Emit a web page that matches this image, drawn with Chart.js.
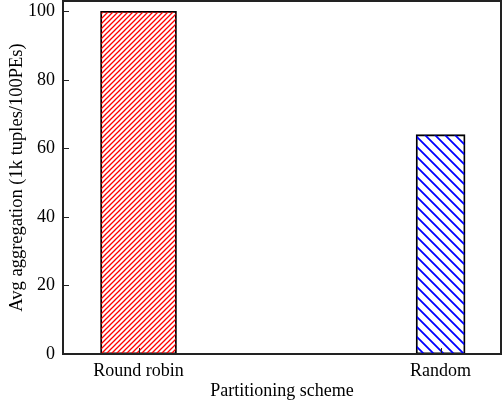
<!DOCTYPE html>
<html>
<head>
<meta charset="utf-8">
<script src="https://cdn.jsdelivr.net/npm/chart.js@4.4.1/dist/chart.umd.min.js"></script>
<style>
  html, body { margin: 0; padding: 0; background: #fff; }
  #wrap { width: 502px; height: 407px; }
</style>
</head>
<body>
<div id="wrap"><canvas id="c" width="502" height="407"></canvas></div>
<script>
// Partitioning schemes and their average aggregation (1k tuples / 100 PEs)
const categories = ['Round robin', 'Random'];
const categoryPositions = [1, 2];
const aggregationValues = [100, 64];
const yTickValues = [0, 20, 40, 60, 80, 100];

const FONT = "'Liberation Serif', 'Times New Roman', serif";

// Hatch fill: diagonal stripes drawn into a small repeating tile
function hatch(color, spacing, lineWidth, forward) {
  const t = document.createElement('canvas');
  t.width = spacing; t.height = spacing;
  const g = t.getContext('2d');
  g.strokeStyle = color;
  g.lineWidth = lineWidth;
  g.beginPath();
  for (let k = -2; k <= 2; k++) {
    const o = k * spacing;
    if (forward) {
      // "/" stripes
      g.moveTo(o - spacing, spacing * 2); g.lineTo(o + spacing * 2, -spacing);
    } else {
      // "\" stripes
      g.moveTo(o - spacing, -spacing); g.lineTo(o + spacing * 2, spacing * 2);
    }
  }
  g.stroke();
  return document.getElementById('c').getContext('2d').createPattern(t, 'repeat');
}

const redHatch = hatch('#ff0000', 5, 1.3, true);
const blueHatch = hatch('#0000ff', 10, 1.8, false);

// Frame around the plot plus inward-pointing tick marks
const framePlugin = {
  id: 'frame',
  afterDraw(chart) {
    const { ctx, chartArea: a, scales } = chart;
    ctx.save();
    ctx.strokeStyle = '#222';
    ctx.lineWidth = 1;
    ctx.beginPath();
    yTickValues.forEach(v => {
      const y = Math.round(scales.y.getPixelForValue(v)) + 0.5;
      ctx.moveTo(a.left, y); ctx.lineTo(a.left + 6, y);
    });
    categoryPositions.forEach(v => {
      const x = Math.round(scales.x.getPixelForValue(v)) + 0.5;
      ctx.moveTo(x, a.bottom); ctx.lineTo(x, a.bottom - 6);
    });
    ctx.stroke();
    ctx.lineWidth = 2;
    ctx.strokeRect(a.left, a.top, a.right - a.left, a.bottom - a.top);
    ctx.restore();
  }
};

new Chart(document.getElementById('c'), {
  type: 'bar',
  data: {
    datasets: [
      {
        label: categories[0],
        data: [{ x: categoryPositions[0], y: aggregationValues[0] }],
        backgroundColor: redHatch,
        borderColor: '#000',
        borderWidth: 1.2,
        borderSkipped: false,
        barThickness: 76
      },
      {
        label: categories[1],
        data: [{ x: categoryPositions[1], y: aggregationValues[1] }],
        backgroundColor: blueHatch,
        borderColor: '#000',
        borderWidth: 1.2,
        borderSkipped: false,
        barThickness: 49
      }
    ]
  },
  options: {
    responsive: false,
    devicePixelRatio: 1,
    animation: false,
    grouped: false,
    layout: { padding: { top: 1, right: 1, left: 0, bottom: 0 } },
    plugins: { legend: { display: false }, tooltip: { enabled: false } },
    scales: {
      x: {
        type: 'linear',
        min: 0.75,
        max: 2.2,
        offset: false,
        grid: { display: false, drawTicks: false, offset: false },
        border: { display: false },
        afterBuildTicks(scale) {
          scale.ticks = categoryPositions.map(v => ({ value: v }));
        },
        afterFit(scale) {
          scale.height = 53;
          scale.paddingLeft = 0; scale.paddingRight = 0;
        },
        ticks: {
          color: '#000',
          padding: 6,
          maxRotation: 0,
          autoSkip: false,
          font: { family: FONT, size: 18 },
          callback: (v) => categories[categoryPositions.indexOf(v)]
        },
        title: {
          display: true,
          text: 'Partitioning scheme',
          color: '#000',
          font: { family: FONT, size: 18 },
          padding: { top: 0, bottom: 5 }
        }
      },
      y: {
        min: 0,
        max: 103,
        grid: { display: false, drawTicks: false },
        border: { display: false },
        afterBuildTicks(scale) {
          scale.ticks = yTickValues.map(v => ({ value: v }));
        },
        afterFit(scale) {
          scale.width = 63;
          scale.paddingTop = 0; scale.paddingBottom = 0;
        },
        ticks: {
          color: '#000',
          padding: 8,
          font: { family: FONT, size: 18 }
        },
        title: {
          display: true,
          text: 'Avg aggregation (1k tuples/100PEs)',
          color: '#000',
          font: { family: FONT, size: 18.5 },
          padding: { top: 6, bottom: 0 }
        }
      }
    }
  },
  plugins: [framePlugin]
});
</script>
</body>
</html>
